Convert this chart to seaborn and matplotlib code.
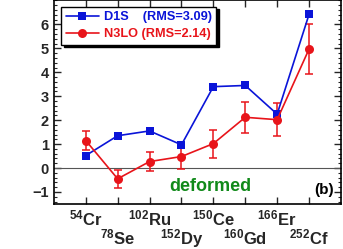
import numpy as np
import pandas as pd
import matplotlib
matplotlib.use("Agg")
import matplotlib.pyplot as plt
import seaborn as sns
from matplotlib.ticker import MultipleLocator

# nuclei along the x axis
nuclei = [r"$^{54}$Cr", r"$^{78}$Se", r"$^{102}$Ru", r"$^{152}$Dy",
          r"$^{150}$Ce", r"$^{160}$Gd", r"$^{166}$Er", r"$^{252}$Cf"]
d1s = [0.52, 1.35, 1.55, 0.97, 3.40, 3.45, 2.25, 6.42]
n3lo = [1.15, -0.45, 0.27, 0.48, 1.02, 2.12, 2.02, 4.97]
n3lo_err = [0.40, 0.38, 0.40, 0.50, 0.58, 0.64, 0.70, 1.03]

sns.set_style("ticks")
plt.rcParams["font.family"] = ["Liberation Sans", "DejaVu Sans"]
plt.rcParams["font.weight"] = "bold"
plt.rcParams["mathtext.fontset"] = "custom"
plt.rcParams["mathtext.rm"] = "Liberation Sans:bold"
plt.rcParams["mathtext.it"] = "Liberation Sans:bold"
plt.rcParams["mathtext.bf"] = "Liberation Sans:bold"

pos = np.arange(1, len(nuclei) + 1)
df = pd.DataFrame({"pos": pos, "D1S": d1s, "N3LO": n3lo})

fig = plt.figure(figsize=(3.43, 2.49), dpi=100)
ax = fig.add_axes([0.157, 0.181, 0.837, 0.817])

blue = "#0a14d8"
red = "#e8141a"

ax.axhline(0, color="#555555", lw=0.8, zorder=1)
ax.errorbar(pos, n3lo, yerr=n3lo_err, fmt="none", ecolor=red, elinewidth=1.1,
            capsize=3, capthick=1.1, zorder=2)
sns.lineplot(data=df, x="pos", y="D1S", ax=ax, color=blue, marker="s",
             markersize=5.5, markeredgewidth=0, lw=1.2,
             label="D1S    (RMS=3.09)", zorder=3)
sns.lineplot(data=df, x="pos", y="N3LO", ax=ax, color=red, marker="o",
             markersize=6.5, markeredgewidth=0, lw=1.2,
             label="N3LO (RMS=2.14)", zorder=3)

ax.set_xlim(0, 9)
ax.set_ylim(-1.5, 7.0)
ax.set_xlabel("")
ax.set_ylabel("")
ax.set_xticks(pos)
ax.set_xticklabels(nuclei, fontsize=12, fontweight="bold")
for i, tick in enumerate(ax.xaxis.get_major_ticks()):
    tick.set_pad(3 if i % 2 == 0 else 17)
ax.yaxis.set_major_locator(MultipleLocator(1))
ax.yaxis.set_minor_locator(MultipleLocator(0.2))
ax.set_yticks(np.arange(-1, 7))
ax.tick_params(axis="y", labelsize=10.5, direction="in", right=True,
               length=5, width=1)
ax.tick_params(axis="y", which="minor", direction="in", right=True,
               length=2.5, width=0.8)
ax.tick_params(axis="x", direction="in", top=True, length=5, width=1)
for lab in ax.get_yticklabels():
    lab.set_fontweight("bold")
for s in ax.spines.values():
    s.set_linewidth(1.2)
    s.set_color("black")

ax.text(0.545, 0.085, "deformed", transform=ax.transAxes, color="#118a1a",
        fontsize=13, fontweight="bold", ha="center", va="center")
ax.text(0.975, 0.07, "(b)", transform=ax.transAxes, color="black",
        fontsize=11, fontweight="bold", ha="right", va="center")

leg = ax.legend(loc="upper left", bbox_to_anchor=(0.025, 0.97), frameon=True,
                fancybox=False, edgecolor="black", framealpha=1,
                shadow={"color": "black", "alpha": 1}, fontsize=9.2,
                handlelength=2.6, borderpad=0.35, labelspacing=0.4,
                handletextpad=0.4, borderaxespad=0)
leg.get_frame().set_linewidth(1.0)
for t, c in zip(leg.get_texts(), [blue, red]):
    t.set_color(c)
    t.set_fontweight("bold")

fig.savefig("out.png", dpi=100)
